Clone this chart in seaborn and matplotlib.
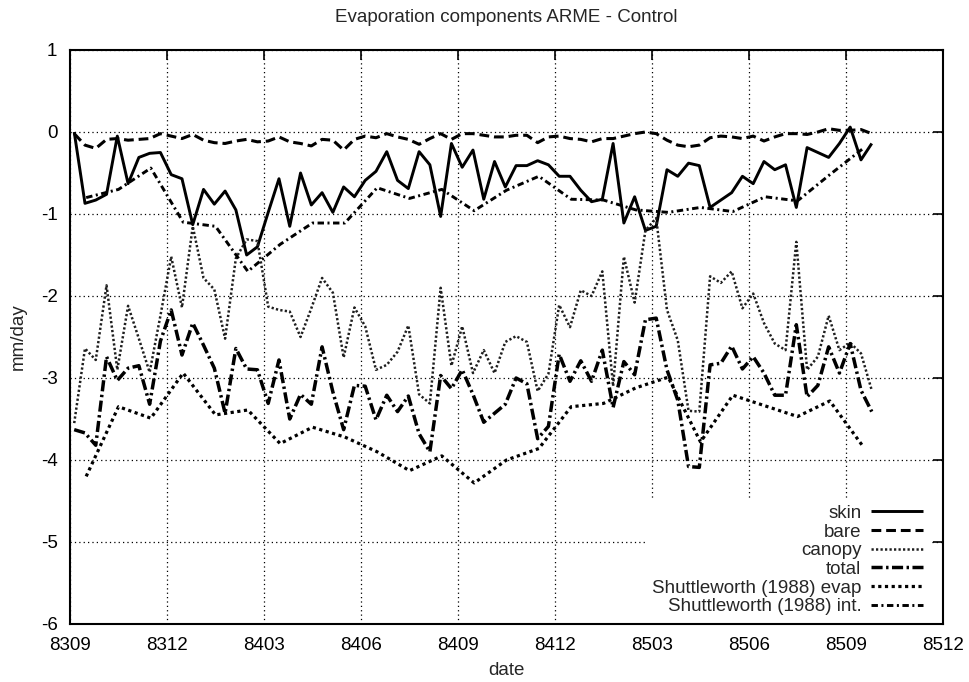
import numpy as np
import matplotlib
matplotlib.use("Agg")
import matplotlib.pyplot as plt
import seaborn as sns

# ---------------- data (mm/day) ----------------
tick_labels = ["8309", "8312", "8403", "8406", "8409", "8412",
               "8503", "8506", "8509", "8512"]
y_ticks = [-6, -5, -4, -3, -2, -1, 0, 1]

# dekadal model series, Sept 1983 - Sept 1985
skin = [0.00, -0.87, -0.83, -0.76, -0.05, -0.63, -0.31, -0.26, -0.25, -0.52,
        -0.57, -1.13, -0.70, -0.88, -0.72, -0.95, -1.50, -1.40, -0.98, -0.57,
        -1.15, -0.50, -0.89, -0.74, -0.98, -0.67, -0.79, -0.59, -0.48, -0.24,
        -0.59, -0.69, -0.24, -0.40, -1.03, -0.14, -0.43, -0.22, -0.82, -0.36,
        -0.67, -0.41, -0.41, -0.35, -0.40, -0.54, -0.54, -0.71, -0.85, -0.82,
        -0.14, -1.11, -0.79, -1.20, -1.15, -0.46, -0.54, -0.38, -0.41, -0.92,
        -0.83, -0.74, -0.54, -0.63, -0.36, -0.46, -0.40, -0.92, -0.19, -0.25,
        -0.31, -0.14, 0.06, -0.34, -0.14]
bare = [-0.02, -0.16, -0.20, -0.09, -0.08, -0.10, -0.09, -0.08, -0.02, -0.05,
        -0.08, -0.03, -0.10, -0.13, -0.14, -0.11, -0.09, -0.12, -0.11, -0.06,
        -0.12, -0.14, -0.17, -0.09, -0.10, -0.22, -0.09, -0.05, -0.07, -0.02,
        -0.06, -0.09, -0.15, -0.08, -0.02, -0.09, -0.02, -0.02, -0.04, -0.06,
        -0.06, -0.04, -0.04, -0.13, -0.06, -0.05, -0.08, -0.09, -0.12, -0.08,
        -0.08, -0.05, -0.02, 0.00, -0.02, -0.10, -0.16, -0.18, -0.16, -0.07,
        -0.05, -0.06, -0.08, -0.05, -0.11, -0.06, -0.02, -0.02, -0.03, 0.00,
        0.04, 0.02, 0.02, 0.03, -0.02]
canopy = [-3.55, -2.64, -2.78, -1.87, -2.90, -2.12, -2.52, -2.93, -2.24, -1.52,
          -2.14, -1.15, -1.78, -1.92, -2.52, -1.54, -1.31, -1.33, -2.13, -2.17,
          -2.19, -2.50, -2.15, -1.78, -1.96, -2.75, -2.14, -2.37, -2.90, -2.84,
          -2.68, -2.36, -3.20, -3.31, -1.90, -2.85, -2.37, -2.94, -2.66, -2.94,
          -2.56, -2.49, -2.56, -3.16, -2.95, -2.11, -2.38, -1.93, -2.00, -1.70,
          -3.10, -1.52, -2.08, -1.20, -1.05, -2.17, -2.54, -3.40, -3.41, -1.76,
          -1.84, -1.70, -2.15, -1.97, -2.33, -2.58, -2.66, -1.34, -2.90, -2.74,
          -2.24, -2.66, -2.57, -2.70, -3.15]
total = [-3.63, -3.67, -3.82, -2.74, -3.03, -2.88, -2.85, -3.32, -2.55, -2.17,
         -2.72, -2.33, -2.60, -2.88, -3.43, -2.64, -2.89, -2.90, -3.31, -2.78,
         -3.50, -3.20, -3.32, -2.62, -3.17, -3.63, -3.09, -3.10, -3.51, -3.21,
         -3.41, -3.22, -3.68, -3.90, -2.97, -3.13, -2.90, -3.20, -3.54, -3.43,
         -3.32, -3.00, -3.07, -3.74, -3.59, -2.71, -3.04, -2.79, -3.04, -2.66,
         -3.36, -2.80, -2.96, -2.29, -2.27, -2.90, -3.27, -4.08, -4.09, -2.84,
         -2.82, -2.61, -2.89, -2.74, -2.94, -3.21, -3.21, -2.35, -3.23, -3.09,
         -2.62, -2.94, -2.58, -3.15, -3.41]

# monthly observations (Shuttleworth 1988)
shut_evap = [-4.20, -3.35, -3.49, -2.94, -3.45, -3.39, -3.80, -3.60, -3.72,
             -3.90, -4.13, -3.95, -4.28, -4.00, -3.86, -3.35, -3.31, -3.12,
             -2.99, -3.78, -3.21, -3.34, -3.47, -3.28, -3.82]
shut_int = [-0.80, -0.70, -0.44, -1.10, -1.15, -1.70, -1.37, -1.11, -1.11,
            -0.68, -0.81, -0.70, -0.96, -0.71, -0.54, -0.82, -0.83, -0.95,
            -0.98, -0.92, -0.97, -0.79, -0.84, -0.52, -0.21]

# time axis in months since 8309
dekad_t = np.arange(len(skin)) / 3 + 0.13
month_t = np.arange(len(shut_evap)) + 0.5

# ---------------- style ----------------
sns.set_style("white")
plt.rcParams['font.family'] = ['Liberation Sans', 'DejaVu Sans']
plt.rcParams['axes.unicode_minus'] = False
FS = 13.5

fig = plt.figure(figsize=(9.69, 6.82), dpi=100)
ax = fig.add_axes([70 / 969, 58 / 682, 873 / 969, 574 / 682])

series = [
    (dekad_t, skin, "skin", dict(lw=2.1, linestyle='-')),
    (dekad_t, bare, "bare", dict(lw=2.2, linestyle=(0, (3.2, 1.6)))),
    (dekad_t, canopy, "canopy", dict(lw=1.8, linestyle=(0, (0.9, 0.9)), color='#1e1e1e')),
    (dekad_t, total, "total", dict(lw=2.5, linestyle=(0, (3.2, 1.0, 0.7, 1.0)))),
    (month_t, shut_evap, "Shuttleworth (1988) evap", dict(lw=2.3, linestyle=(0, (1.0, 1.1)))),
    (month_t, shut_int, "Shuttleworth (1988) int.", dict(lw=2.1, linestyle=(0, (2.2, 1.2, 0.7, 1.2)))),
]
for x, y, lab, kw in series:
    color = kw.pop('color', 'black')
    sns.lineplot(x=x, y=y, ax=ax, label=lab, color=color, errorbar=None,
                 solid_capstyle='butt', dash_capstyle='butt', **kw)

ax.set_xlim(0, 27)
ax.set_ylim(-6, 1)
ax.set_xticks(np.arange(0, 28, 3))
ax.set_xticklabels(tick_labels)
ax.set_yticks(y_ticks)
ax.set_yticklabels([str(v) for v in y_ticks])

ax.set_axisbelow(True)
ax.grid(True, color='black', linestyle=(0, (1, 2.5)), linewidth=0.9)
for s in ax.spines.values():
    s.set_color('black')
    s.set_linewidth(1.5)
ax.tick_params(direction='in', length=7, width=1.2, top=True, right=True,
               labelsize=FS, pad=9, colors='black')

ax.set_title("Evaporation components ARME - Control", fontsize=FS, pad=20)
ax.set_xlabel("date", fontsize=FS, labelpad=6)
ax.set_ylabel("mm/day", fontsize=FS, labelpad=10)

leg = ax.legend(loc='lower right', bbox_to_anchor=(0.985, 0.004), borderaxespad=0,
                fontsize=FS, markerfirst=False, handlelength=2.8,
                handletextpad=0.5, labelspacing=0.08, borderpad=0.35,
                frameon=True, fancybox=False, framealpha=1,
                facecolor='white', edgecolor='none')

fig.savefig("out.png", dpi=100)
